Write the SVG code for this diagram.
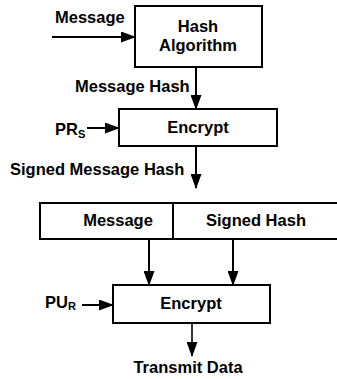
<svg xmlns="http://www.w3.org/2000/svg" width="337" height="379" viewBox="0 0 337 379">
<style>
text{font-family:"Liberation Sans",Arial,sans-serif;font-weight:bold;font-size:16.5px;fill:#000}
.box{fill:#fff;stroke:#000;stroke-width:2}
.c{text-anchor:middle}
.ln{stroke:#000;stroke-width:2;fill:none;marker-end:url(#ah)}
</style>
<defs>
<marker id="ah" markerWidth="15" markerHeight="11" refX="14" refY="5.5" orient="auto" markerUnits="userSpaceOnUse">
<path d="M0,0 L15,5.5 L0,11 Z" fill="#000"/>
</marker>
</defs>
<g id="connectors">
<line class="ln" x1="52" y1="37" x2="135" y2="37"/>
<line class="ln" x1="196" y1="68" x2="196" y2="109"/>
<line class="ln" x1="87" y1="128" x2="119" y2="128"/>
<line class="ln" x1="196" y1="147" x2="196" y2="188"/>
<line class="ln" x1="149" y1="240" x2="149" y2="285"/>
<line class="ln" x1="233" y1="240" x2="233" y2="285"/>
<line class="ln" x1="82" y1="305" x2="113" y2="305"/>
<line class="ln" x1="192" y1="324" x2="192" y2="356" style="stroke:#334"/>
</g>
<g id="label-message"><text x="55" y="23">Message</text></g>
<g id="hash"><rect class="box" x="135" y="6" width="127" height="61"/><text class="c" x="198" y="32">Hash</text><text class="c" x="198" y="51">Algorithm</text></g>
<g id="label-mhash"><text x="75" y="92">Message Hash</text></g>
<g id="encrypt1"><rect class="box" x="119" y="109" width="158" height="37"/><text class="c" x="198" y="133">Encrypt</text></g>
<g id="label-prs"><text x="55" y="135">PR<tspan font-size="11" dy="3">S</tspan></text></g>
<g id="label-smhash"><text x="10" y="175">Signed Message Hash</text></g>
<g id="bar"><rect class="box" x="40" y="203" width="298" height="36"/><line x1="173" y1="203" x2="173" y2="239" stroke="#000" stroke-width="2"/><text class="c" x="118" y="226">Message</text><text class="c" x="256" y="226">Signed Hash</text></g>
<g id="encrypt2"><rect class="box" x="113" y="285" width="157" height="38"/><text class="c" x="191" y="309">Encrypt</text></g>
<g id="label-pur"><text x="45" y="308">PU<tspan font-size="11" dy="2">R</tspan></text></g>
<g id="label-transmit"><text class="c" x="188" y="373">Transmit Data</text></g>
</svg>
